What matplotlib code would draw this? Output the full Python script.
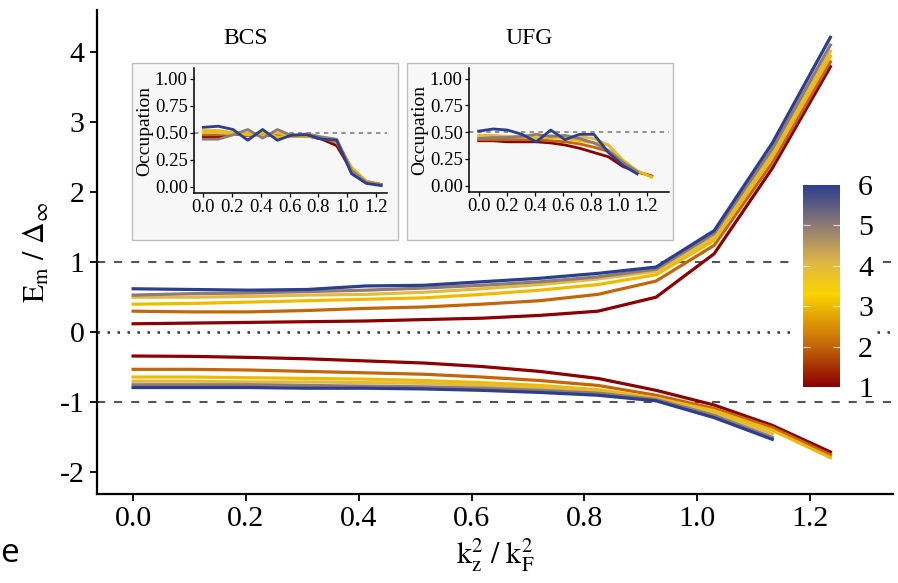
import numpy as np
import matplotlib
matplotlib.use("Agg")
import matplotlib.pyplot as plt
from matplotlib.colors import LinearSegmentedColormap
from matplotlib.patches import Rectangle

plt.rcParams["font.family"] = ["Liberation Serif", "DejaVu Serif"]
plt.rcParams["mathtext.fontset"] = "stix"

# ---------------- data ----------------
kz2 = [0.0, 0.103, 0.206, 0.309, 0.412, 0.515, 0.618, 0.721, 0.824, 0.927, 1.030, 1.133, 1.236]
levels = [1, 2, 3, 4, 5, 6]

nan = np.nan
upper = {
    1: [0.12, 0.13, 0.14, 0.15, 0.16, 0.18, 0.20, 0.24, 0.30, 0.50, 1.12, 2.34, 3.79],
    2: [0.30, 0.29, 0.29, 0.31, 0.34, 0.36, 0.40, 0.45, 0.54, 0.73, 1.24, 2.42, 3.86],
    3: [0.40, 0.41, 0.43, 0.45, 0.47, 0.49, 0.54, 0.60, 0.68, 0.82, 1.31, 2.50, 3.94],
    4: [0.50, 0.50, 0.51, 0.53, 0.54, 0.57, 0.62, 0.68, 0.76, 0.87, 1.36, 2.55, 4.01],
    5: [0.53, 0.55, 0.56, 0.58, 0.60, 0.63, 0.67, 0.72, 0.79, 0.90, 1.41, 2.62, 4.10],
    6: [0.62, 0.61, 0.60, 0.61, 0.66, 0.67, 0.72, 0.77, 0.84, 0.93, 1.45, 2.70, 4.21],
}
lower = {
    1: [-0.34, -0.345, -0.36, -0.38, -0.41, -0.44, -0.49, -0.56, -0.66, -0.83, -1.04, -1.33, -1.71],
    2: [-0.53, -0.53, -0.54, -0.56, -0.58, -0.60, -0.64, -0.69, -0.76, -0.90, -1.09, -1.36, -1.75],
    3: [-0.64, -0.64, -0.65, -0.66, -0.67, -0.69, -0.72, -0.76, -0.82, -0.94, -1.12, -1.40, -1.79],
    4: [-0.70, -0.70, -0.71, -0.71, -0.72, -0.73, -0.76, -0.79, -0.85, -0.95, -1.15, -1.45, nan],
    5: [-0.75, -0.75, -0.75, -0.76, -0.77, -0.78, -0.80, -0.83, -0.87, -0.96, -1.19, -1.50, nan],
    6: [-0.79, -0.79, -0.79, -0.80, -0.80, -0.81, -0.83, -0.86, -0.90, -0.98, -1.22, -1.53, nan],
}
occ_bcs = {
    1: [0.46, 0.46, 0.49, 0.48, 0.48, 0.47, 0.47, 0.47, 0.44, 0.38, 0.15, 0.04, 0.02],
    2: [0.48, 0.48, 0.49, 0.47, 0.49, 0.47, 0.47, 0.47, 0.45, 0.41, 0.17, 0.05, 0.02],
    3: [0.52, 0.52, 0.50, 0.48, 0.50, 0.46, 0.47, 0.47, 0.45, 0.42, 0.18, 0.05, 0.02],
    4: [0.50, 0.50, 0.49, 0.50, 0.47, 0.50, 0.47, 0.48, 0.45, 0.43, 0.16, 0.04, 0.02],
    5: [0.44, 0.44, 0.48, 0.53, 0.45, 0.53, 0.47, 0.49, 0.46, 0.44, 0.15, 0.04, 0.02],
    6: [0.55, 0.56, 0.53, 0.43, 0.53, 0.43, 0.48, 0.48, 0.44, 0.43, 0.12, 0.03, 0.01],
}
occ_ufg = {
    1: [0.42, 0.42, 0.41, 0.41, 0.41, 0.40, 0.38, 0.35, 0.31, 0.27, 0.18, 0.13, 0.09],
    2: [0.43, 0.43, 0.43, 0.43, 0.43, 0.42, 0.41, 0.39, 0.36, 0.32, 0.21, 0.13, 0.09],
    3: [0.46, 0.46, 0.46, 0.46, 0.45, 0.45, 0.44, 0.42, 0.40, 0.38, 0.24, 0.14, 0.08],
    4: [0.47, 0.47, 0.46, 0.46, 0.44, 0.47, 0.45, 0.46, 0.44, 0.38, 0.22, 0.13, nan],
    5: [0.44, 0.45, 0.45, 0.46, 0.48, 0.46, 0.47, 0.44, 0.40, 0.33, 0.22, 0.13, nan],
    6: [0.51, 0.53, 0.52, 0.48, 0.41, 0.52, 0.43, 0.48, 0.48, 0.31, 0.19, 0.11, nan],
}

x_ticks = [0.0, 0.2, 0.4, 0.6, 0.8, 1.0, 1.2]
x_ticklabels = ["0.0", "0.2", "0.4", "0.6", "0.8", "1.0", "1.2"]
y_ticks = [-2, -1, 0, 1, 2, 3, 4]
y_ticklabels = ["-2", "-1", "0", "1", "2", "3", "4"]
occ_ticks = [0.0, 0.25, 0.5, 0.75, 1.0]
occ_ticklabels = ["0.00", "0.25", "0.50", "0.75", "1.00"]

# ---------------- style ----------------
cmap = LinearSegmentedColormap.from_list(
    "temp",
    [(0.0, "#8B0000"), (0.2, "#C3650A"), (0.46, "#FBD400"),
     (0.62, "#DDB648"), (0.8, "#8F7B75"), (1.0, "#2C3E8E")],
)


def level_color(v):
    return cmap((v - levels[0]) / (levels[-1] - levels[0]))


W, H = 898, 583
fig = plt.figure(figsize=(W / 100, H / 100), dpi=100)


def frac(x0, y0, x1, y1):
    """pixel box (top-left origin) -> figure fraction rect"""
    return [x0 / W, 1 - y1 / H, (x1 - x0) / W, (y1 - y0) / H]


# ---------------- main panel ----------------
ax = fig.add_axes(frac(97, 10, 893, 494))
ax.set_zorder(0)
ax.set_xlim(-0.064, 1.347)
ax.set_ylim(-2.31, 4.6)

ax.axhline(1, color="#555555", lw=1.5, ls=(0, (3.9, 4.3)), zorder=1)
ax.axhline(-1, color="#555555", lw=1.5, ls=(0, (3.9, 4.3)), zorder=1)
ax.axhline(0, color="#333333", lw=1.8, ls=(0, (1, 3)), zorder=1)

for v in levels:
    c = level_color(v)
    ax.plot(kz2, upper[v], color=c, lw=2.3, solid_joinstyle="round", zorder=2)
    ax.plot(kz2, lower[v], color=c, lw=2.3, solid_joinstyle="round", zorder=2)

for s in ["top", "right"]:
    ax.spines[s].set_visible(False)
for s in ["left", "bottom"]:
    ax.spines[s].set_linewidth(1.6)
ax.set_xticks(x_ticks)
ax.set_xticklabels(x_ticklabels)
ax.set_yticks(y_ticks)
ax.set_yticklabels(y_ticklabels)
ax.tick_params(labelsize=21.5, length=5, width=1.3, pad=4, colors="black")
ax.set_xlabel(r"$\mathrm{k_z^2\ /\ k_F^2}$", fontsize=21.5, labelpad=3)
ax.set_ylabel(r"$\mathrm{E_m\ /\ \Delta_\infty}$", fontsize=21.5, labelpad=6)

# ---------------- colour bar with white backing ----------------
fig.add_artist(Rectangle((797 / W, 1 - 397 / H), (876 - 797) / W, (397 - 175) / H,
                         transform=fig.transFigure, facecolor="white",
                         edgecolor="none", zorder=0.5))
cax = fig.add_axes(frac(803, 185, 840, 387))
cax.set_zorder(2)
grad = np.linspace(levels[0], levels[-1], 256)[:, None]
cax.imshow(grad, extent=[0, 1, levels[0], levels[-1]], origin="lower",
           aspect="auto", cmap=cmap)
cax.set_xlim(0, 1)
cax.set_ylim(levels[0], levels[-1])
cax.hlines(levels[1:-1], 0, 0.2, color="white", lw=0.8, alpha=0.7)
cax.hlines(levels[1:-1], 0.8, 1, color="white", lw=0.8, alpha=0.7)
cax.set_xticks([])
cax.set_yticks(levels)
cax.set_yticklabels([str(v) for v in levels])
cax.yaxis.tick_right()
cax.tick_params(axis="y", length=0, pad=13, labelsize=21.5)
for s in cax.spines.values():
    s.set_visible(False)


# ---------------- occupation insets ----------------
def inset(panel_px, axes_px, xlim, data, title, title_x):
    fig.add_artist(Rectangle((panel_px[0] / W, 1 - panel_px[3] / H),
                             (panel_px[2] - panel_px[0]) / W,
                             (panel_px[3] - panel_px[1]) / H,
                             transform=fig.transFigure, facecolor="#F7F7F7",
                             edgecolor="#BDBDBD", lw=1.0, zorder=0.6))
    a = fig.add_axes(frac(*axes_px))
    a.set_zorder(1)
    a.patch.set_alpha(0)
    a.set_xlim(*xlim)
    a.set_ylim(-0.059, 1.10)
    a.axhline(0.5, color="#808080", lw=1.2, ls=(0, (2.6, 2.6)), zorder=1)
    for v in levels:
        a.plot(kz2, data[v], color=level_color(v), lw=2.0, zorder=2)
    for s in ["top", "right"]:
        a.spines[s].set_visible(False)
    for s in ["left", "bottom"]:
        a.spines[s].set_linewidth(1.1)
    a.set_xticks(x_ticks)
    a.set_xticklabels(x_ticklabels)
    a.set_yticks(occ_ticks)
    a.set_yticklabels(occ_ticklabels)
    a.tick_params(labelsize=13.5, length=3, width=0.9, pad=1.5)
    a.set_ylabel("Occupation", fontsize=14, labelpad=1)
    fig.text(title_x / W, 1 - 38 / H, title, fontsize=17, ha="center", va="center")
    return a


inset((132, 63, 398, 240), (194, 68, 387, 193), (-0.065, 1.277), occ_bcs, "BCS", 246)
inset((407, 63, 673, 240), (469, 68, 669, 192), (-0.069, 1.36), occ_ufg, "UFG", 529)

# stray glyph at the lower-left edge
fig.text(0 / W, 1 - 553 / H, "e", fontsize=24, family="Open Sans",
         ha="left", va="center")

fig.savefig("out.png", dpi=100)
